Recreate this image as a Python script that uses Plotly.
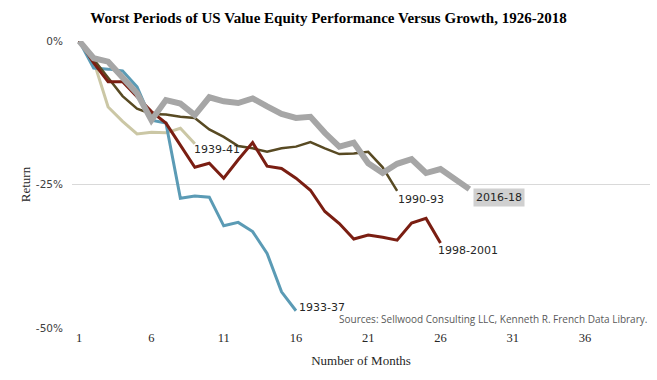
import plotly.graph_objects as go

# Cumulative return (%) of value vs growth, by month of each drawdown period
p1933_37 = [0, -4.7, -4.9, -5.2, -8.0, -13.8, -14.3, -27.4, -27.0, -27.2, -32.2, -31.6, -33.2, -37.0, -43.7, -47.0]
p1939_41 = [0, -3.5, -11.5, -14.0, -16.2, -15.9, -16.0, -15.2, -17.9]
p1990_93 = [0, -3.3, -6.4, -9.6, -11.8, -12.7, -12.8, -13.2, -13.4, -15.4, -16.7, -18.3, -18.7, -19.3,
            -18.7, -18.4, -17.6, -18.7, -19.7, -19.6, -19.3, -22.0, -26.1]
p1998_2001 = [0, -3.8, -7.1, -7.1, -9.7, -12.3, -14.3, -18.1, -22.0, -21.3, -23.9, -20.7, -17.7, -21.8,
              -22.2, -23.9, -26.0, -29.7, -31.8, -34.5, -33.8, -34.2, -34.7, -31.7, -30.9, -35.2]
p2016_18 = [0, -3.0, -3.6, -6.2, -9.1, -13.8, -10.3, -10.9, -12.9, -9.8, -10.5, -10.8, -10.0, -11.4,
            -12.7, -13.4, -13.2, -16.0, -18.4, -17.7, -21.3, -23.0, -21.4, -20.6, -23.0, -22.3, -24.2, -25.8]

series_names = ["1939-41", "1933-37", "1990-93", "1998-2001", "2016-18"]
series_values = [p1939_41, p1933_37, p1990_93, p1998_2001, p2016_18]
series_colors = ["#CBC7A5", "#5B9BB5", "#584A23", "#7A1E12", "#A6A6A6"]
series_widths = [3, 3, 2.5, 3, 6]

y_tick_vals = [0, -25, -50]
y_tick_text = ["0%", "-25%", "-50%"]

fig = go.Figure()
for name, vals, col, w in zip(series_names, series_values, series_colors, series_widths):
    fig.add_trace(go.Scatter(
        x=list(range(1, len(vals) + 1)), y=vals, mode="lines", name=name,
        line=dict(color=col, width=w), hoverinfo="skip"))

label_font = dict(family="DejaVu Sans", size=11, color="#262626")
label_offsets = {"1939-41": (-3, -6), "1933-37": (1, 3), "1990-93": (-1, -9),
                 "1998-2001": (-4, -7), "2016-18": (4, -8)}
for name, vals in zip(series_names, series_values):
    dx, dy = label_offsets[name]
    ann = dict(x=len(vals), y=vals[-1], text=name, showarrow=False, xanchor="left",
               yanchor="middle", xshift=dx, yshift=dy, font=label_font)
    if name == "2016-18":
        ann.update(bgcolor="#D0D0D0", borderpad=2)
    fig.add_annotation(**ann)

fig.add_annotation(x=1, xref="paper", xanchor="right", xshift=-1, y=0, yref="paper",
                   yanchor="bottom", yshift=0,
                   text="Sources: Sellwood Consulting LLC, Kenneth R. French Data Library.",
                   showarrow=False, font=dict(family="Open Sans", size=10, color="#595959"))

fig.update_layout(
    width=657, height=380,
    margin=dict(l=72, r=7, t=41, b=52),
    paper_bgcolor="white", plot_bgcolor="white",
    showlegend=False,
    title=dict(text="<b>Worst Periods of US Value Equity Performance Versus Growth, 1926-2018</b>",
               x=0.5, xanchor="center", y=0.954, yanchor="middle",
               font=dict(family="Liberation Serif", size=15, color="#000000")),
    xaxis=dict(range=[0.5, 40.5], tickmode="linear", tick0=1, dtick=5,
               showgrid=False, zeroline=False, showline=False, ticks="",
               tickfont=dict(family="Liberation Serif", size=12.5, color="#262626"),
               title=dict(text="Number of Months", standoff=12,
                          font=dict(family="Liberation Serif", size=13, color="#262626"))),
    yaxis=dict(range=[-50, 0], tickvals=y_tick_vals, ticktext=y_tick_text,
               showgrid=True, gridcolor="#D9D9D9", gridwidth=1, zeroline=False,
               showline=False, ticks="", ticklabelstandoff=8,
               tickfont=dict(family="DejaVu Sans", size=10.5, color="#404040"),
               title=dict(text="Return", standoff=2,
                          font=dict(family="Liberation Serif", size=13, color="#262626"))),
)

fig.write_html("out.html", config={"displayModeBar": False},
               post_script="document.body.style.margin='0';document.body.style.overflow='hidden';")
